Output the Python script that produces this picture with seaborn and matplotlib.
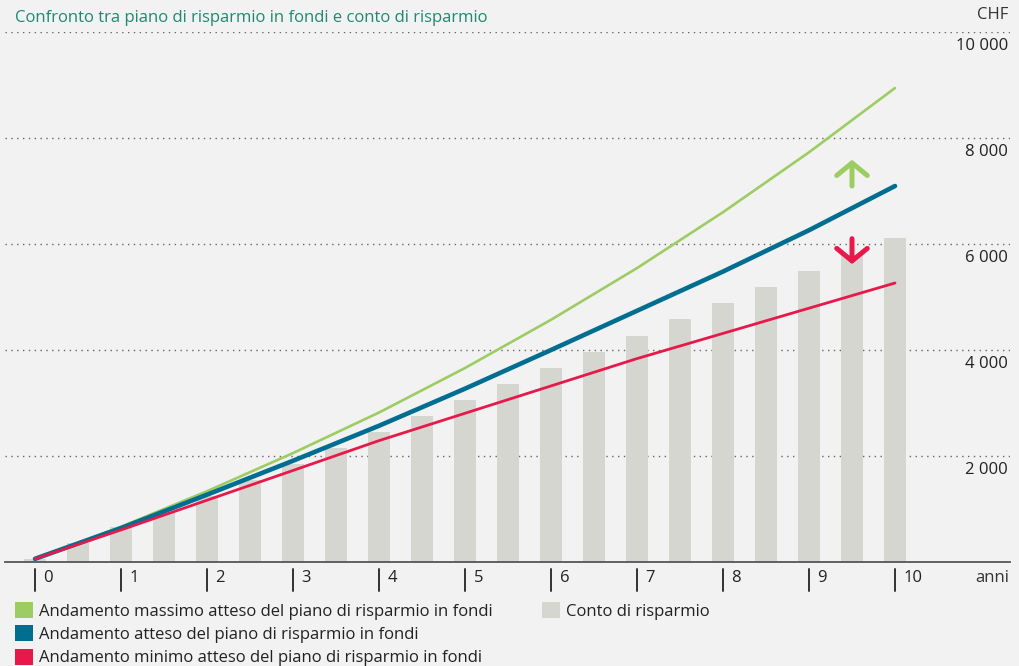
import pandas as pd
import matplotlib.pyplot as plt
from matplotlib.patches import Patch
import seaborn as sns

title = "Confronto tra piano di risparmio in fondi e conto di risparmio"

years = [0, 1, 2, 3, 4, 5, 6, 7, 8, 9, 10]
bar_years = [0, 0.5, 1, 1.5, 2, 2.5, 3, 3.5, 4, 4.5, 5,
             5.5, 6, 6.5, 7, 7.5, 8, 8.5, 9, 9.5, 10]
conto = [55, 360, 660, 945, 1245, 1545, 1845, 2150, 2455, 2755, 3055,
         3360, 3660, 3960, 4265, 4585, 4885, 5190, 5490, 5790, 6110]
fondi_max = [60, 665, 1335, 2055, 2820, 3660, 4570, 5545, 6600, 7730, 8943]
fondi_atteso = [60, 640, 1270, 1910, 2570, 3270, 4000, 4740, 5480, 6260, 7094]
fondi_min = [60, 605, 1166, 1727, 2290, 2806, 3322, 3838, 4313, 4789, 5264]

y_ticks = [2000, 4000, 6000, 8000, 10000]
y_labels = ["2 000", "4 000", "6 000", "8 000", "10 000"]

legend_lines = ["Andamento massimo atteso del piano di risparmio in fondi",
                "Andamento atteso del piano di risparmio in fondi",
                "Andamento minimo atteso del piano di risparmio in fondi"]
legend_bar = "Conto di risparmio"

# arrows near year 9.5 (tail, tip)
arrow_x = 9.5
arrow_up = (7094, 7590)
arrow_down = (6100, 5620)

bg = "#f2f2f2"
green = "#9dcd62"
blue = "#006e90"
red = "#e8194a"
grey_bar = "#d6d6d1"
txt = "#222222"

sns.set_theme(style="white")
plt.rcParams["font.family"] = ["Open Sans", "DejaVu Sans"]
plt.rcParams["font.size"] = 12

df_bar = pd.DataFrame({"anno": bar_years, "chf": conto})
df_lines = pd.DataFrame({"anno": years, "max": fondi_max,
                         "atteso": fondi_atteso, "min": fondi_min})

fig = plt.figure(figsize=(10.2, 6.66), dpi=100, facecolor=bg)
ax = fig.add_axes([5 / 1020, 104 / 666, 1005 / 1020, 530 / 666])
ax.set_facecolor(bg)

sns.barplot(data=df_bar, x="anno", y="chf", native_scale=True, width=0.51,
            color=grey_bar, saturation=1, errorbar=None, ax=ax, zorder=2,
            linewidth=0, edgecolor="none")
sns.lineplot(data=df_lines, x="anno", y="max", color=green, lw=1.9, ax=ax, zorder=3)
sns.lineplot(data=df_lines, x="anno", y="atteso", color=blue, lw=3.3, ax=ax, zorder=4)
sns.lineplot(data=df_lines, x="anno", y="min", color=red, lw=2.0, ax=ax, zorder=5)

ax.set_xlim(-30 / 86, 975 / 86)
ax.set_ylim(0, 10000)
ax.set_xlabel("")
ax.set_ylabel("")

# dotted grid, labels under the lines on the right
ax.set_yticks(y_ticks)
ax.set_yticklabels([])
ax.tick_params(axis="y", length=0)
ax.grid(axis="y", color="#666666", lw=1.0, ls=(0, (1, 3.2)))
ax.set_axisbelow(True)
for v, lab in zip(y_ticks, y_labels):
    ax.text(0.998, v - 120, lab, transform=ax.get_yaxis_transform(),
            ha="right", va="top", color=txt, fontsize=12)

for s in ["top", "right", "left"]:
    ax.spines[s].set_visible(False)
ax.spines["bottom"].set_color("#555555")
ax.spines["bottom"].set_linewidth(1.3)
ax.spines["bottom"].set_zorder(6)

# x ticks hanging below the baseline, label on the right of each tick
ax.set_xticks([])
xt = ax.get_xaxis_transform()
for yr in years:
    ax.plot([yr, yr], [-7 / 530, -29 / 530], transform=xt, color="#333333",
            lw=1.4, clip_on=False)
    ax.text(yr + 0.1, -16 / 530, str(yr), transform=xt, ha="left",
            va="center", color=txt, fontsize=12)
ax.text(0.999, -16 / 530, "anni", transform=ax.transAxes, ha="right",
        va="center", color="#333333", fontsize=12)

for (tail, tip), col in [(arrow_up, green), (arrow_down, red)]:
    ax.annotate("", xy=(arrow_x, tip), xytext=(arrow_x, tail),
                arrowprops=dict(arrowstyle="->,head_length=0.45,head_width=0.55",
                                color=col, lw=3.6, shrinkA=0, shrinkB=0,
                                mutation_scale=20), zorder=7)

fig.text(15 / 1020, 1 - 18 / 666, title, color="#1f8a6c", fontsize=12,
         ha="left", va="center")
fig.text(1008 / 1020, 1 - 15 / 666, "CHF", color="#333333", fontsize=12,
         ha="right", va="center")

h_lines = [Patch(facecolor=c, edgecolor="none") for c in (green, blue, red)]
fig.legend(h_lines, legend_lines, loc="upper left",
           bbox_to_anchor=(15 / 1020, 1 - 602 / 666), frameon=False,
           borderpad=0, borderaxespad=0, handlelength=1.1, handleheight=1.1,
           handletextpad=0.35, labelspacing=0.34, fontsize=12,
           labelcolor=txt)
fig.legend([Patch(facecolor=grey_bar, edgecolor="none")], [legend_bar],
           loc="upper left", bbox_to_anchor=(542 / 1020, 1 - 602 / 666),
           frameon=False, borderpad=0, borderaxespad=0, handlelength=1.1,
           handleheight=1.1, handletextpad=0.35, fontsize=12, labelcolor=txt)

fig.savefig("out.png", dpi=100, facecolor=bg)
